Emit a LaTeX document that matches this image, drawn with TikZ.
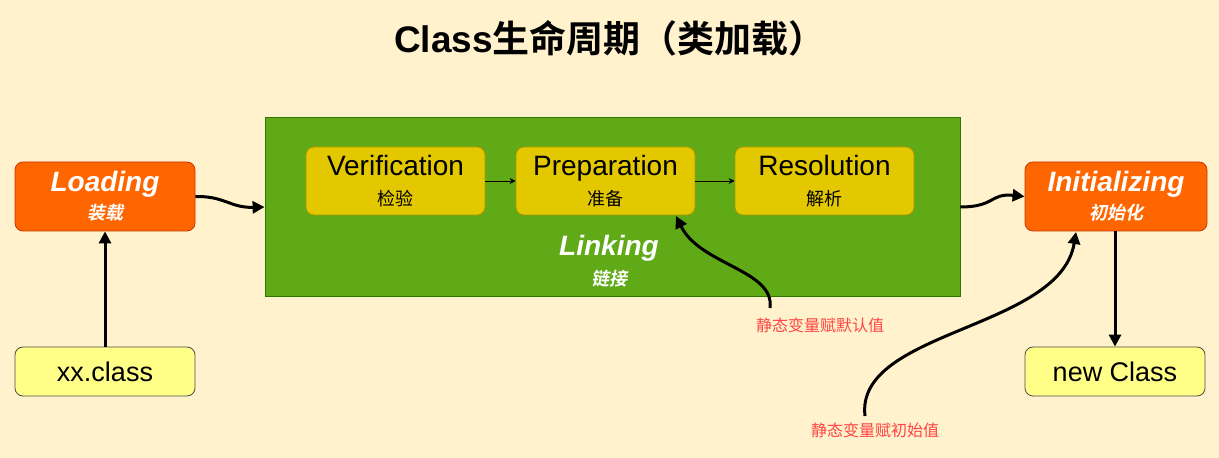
\documentclass[tikz,border=0pt]{standalone}
\usepackage{fontspec}
\setmainfont{Liberation Sans}
\newfontfamily\cjk{Noto Sans CJK SC}[BoldFont={Noto Sans CJK SC Bold},ItalicFont={Noto Sans CJK SC},ItalicFeatures={FakeSlant=0.2},BoldItalicFont={Noto Sans CJK SC Bold},BoldItalicFeatures={FakeSlant=0.2}]
\usetikzlibrary{arrows.meta}
\definecolor{bg}{HTML}{FFF2CC}
\definecolor{org}{HTML}{FF6600}
\definecolor{orgd}{HTML}{C73500}
\definecolor{yel}{HTML}{FFFF88}
\definecolor{grn}{HTML}{60A917}
\definecolor{grnd}{HTML}{2D7600}
\definecolor{gold}{HTML}{E3C800}
\definecolor{goldd}{HTML}{B09500}
\definecolor{redt}{HTML}{FF4444}
\tikzset{
 obox/.style={draw=orgd,fill=org,rounded corners=4pt,minimum width=90pt,minimum height=34.5pt,text=white,align=center,inner sep=0pt},
 ybox/.style={draw=black!70,fill=yel,rounded corners=4pt,minimum width=90pt,minimum height=24.5pt,font=\fontsize{13.5}{15}\selectfont,inner sep=0pt},
 gbox/.style={draw=goldd,fill=gold,rounded corners=4pt,minimum width=89.5pt,minimum height=34pt,align=center,inner sep=0pt},
 big/.style={-{Triangle[length=6pt,width=6pt]},line width=1.5pt},
 small/.style={-{Stealth[length=3pt,width=3pt]},line width=0.4pt},
 lbl/.style={text=redt,font=\cjk\fontsize{8}{10}\selectfont,inner sep=1pt}
}
\begin{document}
\begin{tikzpicture}[x=0.5pt,y=-0.5pt]
\fill[bg] (0,0) rectangle (1219,458);
\useasboundingbox (0,0) rectangle (1219,458);
\node (title) at (610,38) {\fontsize{18.5}{20}\selectfont\bfseries Class{\cjk\bfseries 生命周期（类加载）}};
\node[obox] (load) at (105,196.5) {{\fontsize{14}{15}\selectfont\bfseries\itshape Loading}\\[2pt]{\cjk\fontsize{9}{11}\selectfont\bfseries\itshape 装载}};
\node[ybox] (xx) at (105,371.5) {xx.class};
\node[draw=grnd,fill=grn,minimum width=347.5pt,minimum height=89.5pt,inner sep=0pt] (link) at (612.5,206.5) {};
\node[gbox] (ver) at (395.5,181) {{\fontsize{14}{15}\selectfont Verification}\\[3pt]{\cjk\fontsize{9}{11}\selectfont 检验}};
\node[gbox] (pre) at (605.5,181) {{\fontsize{14}{15}\selectfont Preparation}\\[3pt]{\cjk\fontsize{9}{11}\selectfont 准备}};
\node[gbox] (res) at (824.5,181) {{\fontsize{14}{15}\selectfont Resolution}\\[3pt]{\cjk\fontsize{9}{11}\selectfont 解析}};
\node[text=white,align=center,inner sep=0pt] (lt) at (609,261) {{\fontsize{14}{15}\selectfont\bfseries\itshape Linking}\\[3pt]{\cjk\fontsize{9}{11}\selectfont\bfseries\itshape 链接}};
\node[obox,minimum width=91pt] (init) at (1116,196.5) {{\fontsize{14}{15}\selectfont\bfseries\itshape Initializing}\\[2pt]{\cjk\fontsize{9}{11}\selectfont\bfseries\itshape 初始化}};
\node[ybox] (nc) at (1115,371.5) {new Class};
\node[lbl] (l1) at (820,325) {静态变量赋默认值};
\node[lbl] (l2) at (875,430) {静态变量赋初始值};
\coordinate (c1) at (770,308);
\coordinate (c2) at (865,416);
\draw[small] (ver.east) -- (pre.west);
\draw[small] (pre.east) -- (res.west);
\draw[big] (load.east) .. controls (225,196) and (230,208) .. (link.west |- 0,207);
\draw[big] (link.east |- 0,207) .. controls (995,207) and (990,193) .. (init.west);
\draw[big] (xx.north) -- (load.south);
\draw[big] (init.south -| nc.north) -- (nc.north);
\draw[big] (c1) .. controls (775,270) and (700,265) .. (676,216);
\draw[big] (c2) .. controls (855,330) and (1060,330) .. (1076,232);
\end{tikzpicture}
\end{document}
